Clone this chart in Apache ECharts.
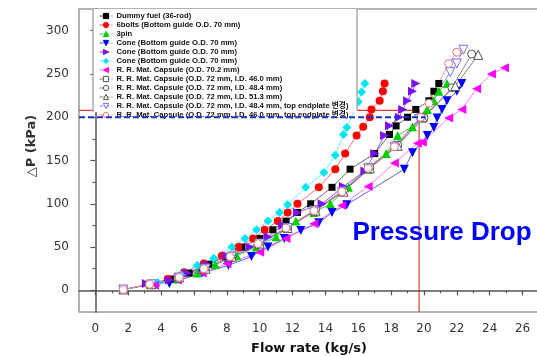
<!DOCTYPE html>
<html><head><meta charset="utf-8">
<script src="https://cdn.jsdelivr.net/npm/echarts@6/dist/echarts.min.js"></script>
<style>html,body{margin:0;padding:0;background:#fff}#c{width:537px;height:356px}</style>
</head><body><div id="c"></div>
<script>
// ---- data ----
const legendLabels = [
  'Dummy fuel (36-rod)',
  '6bolts (Bottom guide O.D. 70 mm)',
  '3pin',
  'Cone (Bottom guide O.D. 70 mm)',
  'Cone (Bottom guide O.D. 70 mm)',
  'Cone (Bottom guide O.D. 70 mm)',
  'R. R. Mat. Capsule (O.D. 70.2 mm)',
  'R. R. Mat. Capsule (O.D. 72 mm, I.D. 46.0 mm)',
  'R. R. Mat. Capsule (O.D. 72 mm, I.D. 48.4 mm)',
  'R. R. Mat. Capsule (O.D. 72 mm, I.D. 51.3 mm)',
  'R. R. Mat. Capsule (O.D. 72 mm, I.D. 48.4 mm, top endplate 변경)',
  'R. R. Mat. Capsule (O.D. 72 mm, I.D. 46.0 mm, top endplate 변경)'
];
const xDummy = [3.5,4.6,5.7,6.9,7.9,8.9,10.0,10.8,11.6,12.3,13.1,14.4,15.5,17.0,17.9,18.3,19.0,19.5,20.3,20.6,20.9];
const yDummy = [7,13,20,30,39,50,60,70,80,90,100,119,140,158,180,190,200,209,219,230,239];
const xBolts = [3.7,4.4,5.4,6.6,7.7,8.7,9.6,10.3,11.1,11.7,12.3,13.6,14.6,15.2,15.9,16.3,16.7,16.8,17.3,17.5,17.6];
const yBolts = [8,13,21,31,40,50,60,70,80,90,100,119,140,158,179,189,200,209,219,230,239];
const xPin = [3.6,5.0,6.2,7.3,8.6,9.8,11.0,12.2,13.3,14.3,15.4,16.6,17.7,18.4,19.3,19.9,20.2,20.6,20.9,21.4];
const yPin = [7,13,20,30,40,50,62,80,90,100,119,140,158,179,189,199,209,219,230,239];
const xConeBlue = [4.5,6.5,8.1,9.5,10.5,11.5,12.5,13.6,14.4,15.3,18.8,19.3,20.2,20.6,20.8,21.1,21.4,22.0,22.3];
const yConeBlue = [8,20,29,39,50,60,69,78,90,99,140,159,179,188,199,209,219,230,239];
const xConeViolet = [3.1,4.5,5.6,6.8,8.0,9.4,10.5,11.4,12.3,13.8,15.1,16.4,17.0,17.6,17.9,18.5,18.7,19.0,19.3,19.5];
const yConeViolet = [8,12,20,30,40,50,62,75,90,100,120,138,158,179,190,200,209,219,230,239];
const xConeCyan = [3.8,5.2,6.2,7.2,8.3,9.1,9.8,10.5,11.2,11.7,12.8,13.9,14.6,15.1,15.3,16.0,16.2,16.4];
const yConeCyan = [9,18,29,37,50,60,70,80,90,99,119,136,156,180,188,218,229,239];
const xCap702 = [3.6,5.0,6.5,8.0,10.0,11.6,13.3,15.0,16.6,18.2,19.6,19.9,21.5,22.3,23.2,24.1,24.9];
const yCap702 = [6,12,20,31,44,60,77,98,120,147,170,171,199,209,233,250,257];
const xCap460 = [1.7,3.3,5.0,6.6,8.2,9.9,11.6,13.3,15.0,16.6,18.3,19.8];
const yCap460 = [1,7,15,25,39,54,72,92,114,142,167,200];
const xCap484 = [1.7,3.3,5.1,6.7,8.3,10.0,11.7,13.4,15.1,16.7,18.4,20.0,21.7,22.9];
const yCap484 = [1,7,15,25,39,54,72,93,115,142,168,199,234,273];
const xCap513 = [1.7,3.4,5.1,6.7,8.3,10.0,11.7,13.4,15.1,16.7,18.4,19.9,21.9,23.3];
const yCap513 = [1,7,15,25,39,54,72,92,114,141,167,200,236,272];
const xCap484T = [1.7,3.4,5.1,6.7,8.3,10.0,11.7,13.3,15.0,16.6,18.2,19.7,21.6,22.0,22.4];
const yCap484T = [1,7,15,25,39,54,72,92,114,141,166,198,252,262,278];
const xCap460T = [1.7,3.3,5.1,6.6,8.2,9.9,11.6,13.3,15.0,16.6,18.2,19.8,20.3,21.5,22.0];
const yCap460T = [1,7,15,25,39,54,72,92,114,141,166,200,216,262,275];
const xTicksMajor = [0,2,4,6,8,10,12,14,16,18,20,22,24,26];
const xTicksMinor = [1,3,5,7,9,11,13,15,17,19,21,23,25];
const yTicksMajor = [0,50,100,150,200,250,300];
const yTicksMinor = [25,75,125,175,225,275];
const redRef = [[-1,208],[19.7,208],[19.7,-25]];
const blueRef = [[-1,200],[20.1,200]];

// ---- chart ----
const zip = (xs, ys) => xs.map((x,i)=>[x, ys[i]]);
const defs = [
  [xDummy,yDummy,'rect',7,0,'#000000','#555555',false],
  [xBolts,yBolts,'circle',8,0,'#ff0000','#ff5a5a',false],
  [xPin,yPin,'triangle',9,0,'#00d000','#33bb33',false],
  [xConeBlue,yConeBlue,'triangle',9,180,'#0000ff','#4a4aff',false],
  [xConeViolet,yConeViolet,'triangle',9,-90,'#7a12f0','#8a44ff',false],
  [xConeCyan,yConeCyan,'diamond',9,0,'#00e6f2','#55eeff',false],
  [xCap702,yCap702,'triangle',9,90,'#ff00ff','#ff66ff',false],
  [xCap460,yCap460,'rect',7,0,'#555555','#777777',true],
  [xCap484,yCap484,'circle',8,0,'#555555','#777777',true],
  [xCap513,yCap513,'triangle',9,0,'#555555','#777777',true],
  [xCap484T,yCap484T,'triangle',9,180,'#6f6fff','#7f7fff',true],
  [xCap460T,yCap460T,'circle',8,0,'#ee7070','#ee8888',true]
];
const series = defs.map((d,i)=>({
  type:'line', name:'s'+i, data: zip(d[0],d[1]),
  symbol:d[2], symbolSize:d[3], symbolRotate:d[4],
  itemStyle: d[7] ? {color:'#ffffff', borderColor:d[5], borderWidth:1}
                  : {color:d[5], borderColor:d[5], borderWidth:0},
  lineStyle:{color:d[6], width:0.9},
  emphasis:{disabled:true}, z:2
}));
series.push({type:'line', name:'redref', data:redRef, symbol:'none',
  lineStyle:{color:'#e03a3a', width:1.2}, z:1, silent:true});
series.push({type:'line', name:'blueref', data:blueRef, symbol:'none',
  lineStyle:{color:'#1f2fd0', width:2, type:[6,3]}, z:10, silent:true});

const axisCol = '#555';
const lblStyle = {fontFamily:'DejaVu Sans', fontSize:12, color:'#333'};
const option = {
  animation:false,
  grid:{left:79, top:9, width:460, height:303, show:true, borderColor:'#999', borderWidth:1.5,
        containLabel:false, outerBoundsMode:'none'},
  xAxis:[
    {type:'value', min:-1, max:27, position:'bottom',
     axisLine:{show:true, lineStyle:{color:axisCol, width:1.5}},
     axisTick:{show:true, customValues:xTicksMajor, length:5, lineStyle:{color:axisCol, width:1.2}},
     axisLabel:Object.assign({customValues:xTicksMajor, margin:11}, lblStyle),
     splitLine:{show:false},
     name:'Flow rate (kg/s)', nameLocation:'middle', nameGap:30,
     nameTextStyle:{fontFamily:'DejaVu Sans', fontWeight:'bold', fontSize:13, color:'#111'}},
    {type:'value', min:-1, max:27, position:'bottom',
     axisLine:{show:false},
     axisTick:{show:true, customValues:xTicksMinor, length:3, lineStyle:{color:axisCol, width:1.2}},
     axisLabel:{show:false}, splitLine:{show:false}}
  ],
  yAxis:[
    {type:'value', min:-25, max:325, position:'left',
     axisLine:{show:true, lineStyle:{color:axisCol, width:1.5}},
     axisTick:{show:true, customValues:yTicksMajor, length:5, lineStyle:{color:axisCol, width:1.2}},
     axisLabel:Object.assign({customValues:yTicksMajor, margin:10}, lblStyle),
     splitLine:{show:false}},
    {type:'value', min:-25, max:325, position:'left',
     axisLine:{show:false},
     axisTick:{show:true, customValues:yTicksMinor, length:3, lineStyle:{color:axisCol, width:1.2}},
     axisLabel:{show:false}, splitLine:{show:false}}
  ],
  legend:{
    orient:'vertical', left:99, top:11.5, padding:0, itemGap:0,
    itemWidth:13, itemHeight:6.5, selectedMode:false,
    data: defs.map((d,i)=>'s'+i),
    formatter: n => legendLabels[+n.slice(1)],
    textStyle:{fontFamily:"'Liberation Sans', Arial, 'Noto Sans CJK KR', sans-serif", fontWeight:'bold',
      fontSize:7.7, lineHeight:9, color:'#111', padding:[0,0,0,-1]},
    itemStyle:{borderWidth:1},
    lineStyle:{type:'dashed', width:1}
  },
  graphic:[
    {type:'rect', shape:{x:93, y:9, width:264, height:103}, style:{fill:'#fff'}, z:3, silent:true},
    {type:'line', shape:{x1:93, y1:9, x2:93, y2:112}, style:{stroke:'#aaa', lineWidth:1.5}, z:3, silent:true},
    {type:'line', shape:{x1:357, y1:9, x2:357, y2:110}, style:{stroke:'#aaa', lineWidth:1.5}, z:3, silent:true},
    {type:'text', x:442, y:233, z:5, silent:true,
     style:{text:'Pressure Drop', fill:'#0000ff', font:"bold 26px 'Liberation Sans', Arial, sans-serif",
            textAlign:'center', textVerticalAlign:'middle'}},
    {type:'text', x:32, y:146, rotation:Math.PI/2, z:5, silent:true,
     style:{text:'△P (kPa)', fill:'#333', font:"bold 13px 'DejaVu Sans', sans-serif",
            textAlign:'center', textVerticalAlign:'middle'}}
  ],
  series: series
};
const chart = echarts.init(document.getElementById('c'), null, {renderer:'canvas'});
chart.setOption(option);
</script></body></html>
